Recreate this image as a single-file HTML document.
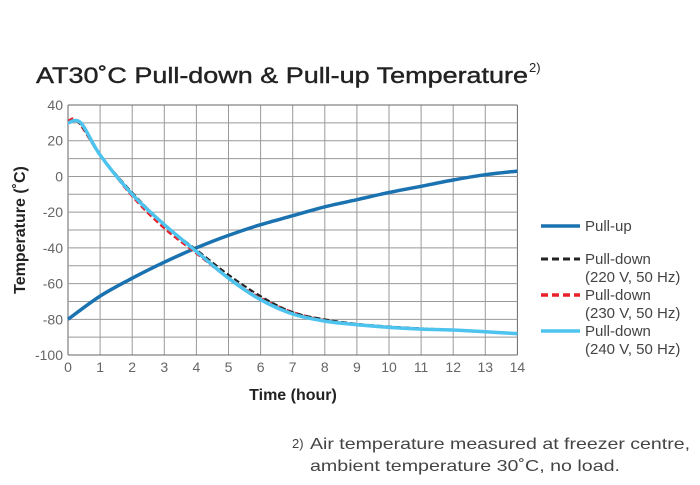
<!DOCTYPE html>
<html><head><meta charset="utf-8"><style>
body{margin:0;background:#fff;width:700px;height:480px;overflow:hidden;font-family:"Liberation Sans",sans-serif}
</style></head><body>
<svg id="s" width="700" height="480" xmlns="http://www.w3.org/2000/svg" font-family="Liberation Sans, sans-serif">
<text x="36" y="83" font-size="22" fill="#222" stroke="#222" stroke-width="0.4" textLength="492" lengthAdjust="spacingAndGlyphs">AT30˚C Pull-down &amp; Pull-up Temperature</text>
<text x="529" y="72" font-size="13" fill="#222">2)</text>
<g id="grid" stroke="#999" stroke-width="1"></g>
<g id="lbl" font-size="14" fill="#666"></g>
<text x="293" y="400" font-size="16" font-weight="bold" fill="#222" text-anchor="middle">Time (hour)</text>
<text transform="translate(25,230) rotate(-90)" font-size="16" font-weight="bold" fill="#222" text-anchor="middle">Temperature (˚C)</text>
<g id="lines" fill="none"></g>
<g font-size="15" fill="#444">
<line x1="541" y1="226" x2="580" y2="226" stroke="#1a72b0" stroke-width="3.5"/>
<text x="585" y="231">Pull-up</text>
<line x1="541" y1="259" x2="580" y2="259" stroke="#222" stroke-width="3" stroke-dasharray="7,4"/>
<text x="585" y="264">Pull-down</text><text x="585" y="282">(220 V, 50 Hz)</text>
<line x1="541" y1="295" x2="580" y2="295" stroke="#e8202a" stroke-width="3.5" stroke-dasharray="7,4"/>
<text x="585" y="300">Pull-down</text><text x="585" y="318">(230 V, 50 Hz)</text>
<line x1="541" y1="331" x2="580" y2="331" stroke="#4ec3ee" stroke-width="3.5"/>
<text x="585" y="336">Pull-down</text><text x="585" y="354">(240 V, 50 Hz)</text>
</g>
<g font-size="16" fill="#444">
<text x="292" y="448" font-size="13">2)</text>
<text x="310" y="449" textLength="380" lengthAdjust="spacingAndGlyphs">Air temperature measured at freezer centre,</text>
<text x="310" y="471" textLength="310" lengthAdjust="spacingAndGlyphs">ambient temperature 30˚C, no load.</text>
</g>
</svg>
<script>
const X=t=>68+32.1*t, Y=v=>105+(40-v)*1.786;
const ns="http://www.w3.org/2000/svg";
function el(p,tag,a,txt){const e=document.createElementNS(ns,tag);for(const k in a)e.setAttribute(k,a[k]);if(txt!==undefined)e.textContent=txt;document.getElementById(p).appendChild(e);}
for(let t=0;t<=14;t++){el("grid","line",{x1:X(t),x2:X(t),y1:Y(40),y2:Y(-100),stroke:t==0||t==14?"#666":"#999"});el("lbl","text",{x:X(t),y:372,"text-anchor":"middle"},t);}
for(let v=40;v>=-100;v-=10){el("grid","line",{x1:X(0),x2:X(14),y1:Y(v),y2:Y(v),stroke:v==-100||v==40?"#666":"#999"});if(v%20==0)el("lbl","text",{x:63,y:Y(v)+5,"text-anchor":"end"},v);}
function smooth(a){const P=a.map(p=>[X(p[0]),Y(p[1])]);let d="M"+P[0][0].toFixed(1)+","+P[0][1].toFixed(1);
for(let i=0;i<P.length-1;i++){const p0=P[Math.max(0,i-1)],p1=P[i],p2=P[i+1],p3=P[Math.min(P.length-1,i+2)];
const c1=[p1[0]+(p2[0]-p0[0])/6,p1[1]+(p2[1]-p0[1])/6],c2=[p2[0]-(p3[0]-p1[0])/6,p2[1]-(p3[1]-p1[1])/6];
d+=" C"+c1.map(v=>v.toFixed(1))+" "+c2.map(v=>v.toFixed(1))+" "+p2.map(v=>v.toFixed(1));}return d;}
const up=[[0,-80],[1,-67],[2,-57],[3,-48],[4,-40],[5,-33],[6,-27],[7,-22],[8,-17],[9,-13],[10,-9],[11,-5.5],[12,-2],[13,1],[14,3]];
const blk=[[0,30],[0.35,30],[1,12],[2,-9],[3,-27],[4,-41],[5,-55],[6,-67],[7,-76],[8,-80],[9,-82.5],[10,-84],[11,-85],[12,-86],[13,-87],[14,-88]];
const red=[[0,31],[0.3,31],[1,12],[2,-11],[3,-29],[4,-43],[5,-57],[6,-68],[7,-76],[8,-80.5],[9,-83],[10,-84.5],[11,-85.5],[12,-86],[13,-87],[14,-88]];
const cy=[[0,30],[0.4,30],[1,12],[2,-10],[3,-27],[4,-42],[5,-57],[6,-69],[7,-77],[8,-81],[9,-83],[10,-84.5],[11,-85.5],[12,-86],[13,-87],[14,-88]];
el("lines","path",{d:smooth(up),stroke:"#1a72b0","stroke-width":3.5});
el("lines","path",{d:smooth(red),stroke:"#e8202a","stroke-width":2.5,"stroke-dasharray":"6,3"});
el("lines","path",{d:smooth(blk),stroke:"#222","stroke-width":2,"stroke-dasharray":"6,3"});
el("lines","path",{d:smooth(cy),stroke:"#4ec3ee","stroke-width":3.5});
</script>
</body></html>
